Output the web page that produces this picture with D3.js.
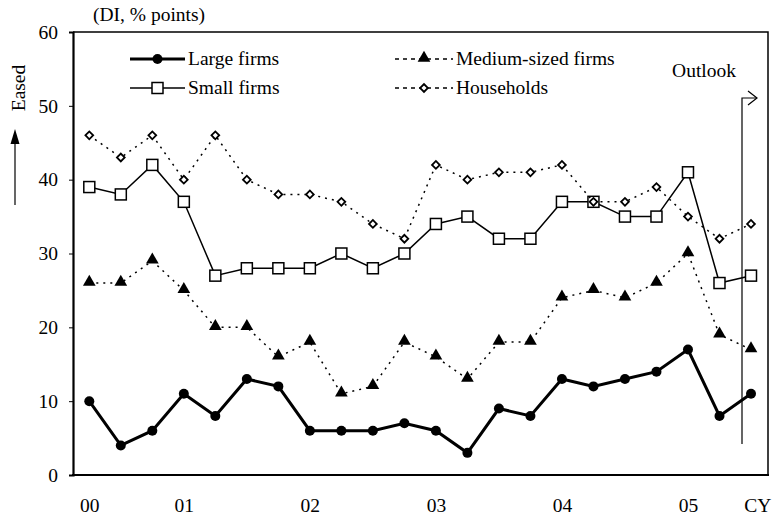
<!DOCTYPE html>
<html>
<head>
<meta charset="utf-8">
<script src="https://cdn.jsdelivr.net/npm/d3@7"></script>
<style>
  body { margin: 0; background: #fff; }
</style>
</head>
<body>
<div class="render"></div>
<script>
"use strict";

// quarterly DI, 2000 .. 2005, plus CY outlook
var largeFirms  = [10, 4, 6, 11, 8, 13, 12, 6, 6, 6, 7, 6, 3, 9, 8, 13, 12, 13, 14, 17, 8, 11];
var mediumFirms = [26, 26, 29, 25, 20, 20, 16, 18, 11, 12, 18, 16, 13, 18, 18, 24, 25, 24, 26, 30, 19, 17];
var smallFirms  = [39, 38, 42, 37, 27, 28, 28, 28, 30, 28, 30, 34, 35, 32, 32, 37, 37, 35, 35, 41, 26, 27];
var households  = [46, 43, 46, 40, 46, 40, 38, 38, 37, 34, 32, 42, 40, 41, 41, 42, 37, 37, 39, 35, 32, 34];
var tickLabels  = ["00", "01", "02", "03", "04", "05", "CY"];
var tickIndex   = [0, 3, 7, 11, 15, 19, 21.2];
var yTicks      = [0, 10, 20, 30, 40, 50, 60];

var FONT = "'Liberation Serif', 'Times New Roman', serif";
var FS = "19.5px";

var w = 772, h = 518;
var svg = d3.select(".render").append("svg").attr("width", w).attr("height", h)
  .style("font-family", FONT).style("font-size", FS);

var xScale = d3.scaleLinear().domain([0, 21]).range([89.3, 751]);
var yScale = d3.scaleLinear().domain([0, 60]).range([475, 32]);

function txt(sel) {
  return sel.style("font-family", FONT).style("font-size", FS).attr("fill", "#000");
}

// frame (top + right)
svg.append("path").attr("d", "M73,32H768V475").attr("fill", "none").attr("stroke", "#000").attr("stroke-width", 1.5);

// axes
var yAxis = d3.axisLeft(yScale).tickValues(yTicks).tickSize(4).tickPadding(11).tickFormat(d3.format("d"));
var gy = svg.append("g").attr("transform", "translate(73,0)").call(yAxis);
gy.attr("font-family", null).attr("font-size", null);
gy.select(".domain").attr("stroke-width", 2.2);
txt(gy.selectAll(".tick text"));

var xAxis = d3.axisBottom(xScale).tickValues(tickIndex).tickSize(0).tickPadding(23)
  .tickFormat(function (d, i) { return tickLabels[i]; });
var gx = svg.append("g").attr("transform", "translate(0,475)").call(xAxis);
gx.attr("font-family", null).attr("font-size", null);
gx.select(".domain").remove();
txt(gx.selectAll(".tick text"));
svg.append("line").attr("x1", 72).attr("x2", 769).attr("y1", 475).attr("y2", 475)
  .attr("stroke", "#000").attr("stroke-width", 2.2);

var line = d3.line().x(function (d, i) { return xScale(i); }).y(function (d) { return yScale(d); });

var diamond = d3.symbol().type(d3.symbolSquare).size(30);
var tri = d3.symbol().type(d3.symbolTriangle).size(70);

function drawMarker(g, kind, x, y) {
  if (kind === "circle") {
    g.append("circle").attr("cx", x).attr("cy", y).attr("r", 5).attr("fill", "#000");
  } else if (kind === "square") {
    g.append("rect").attr("x", x - 5.5).attr("y", y - 5.5).attr("width", 11).attr("height", 11)
      .attr("fill", "#fff").attr("stroke", "#000").attr("stroke-width", 1.5);
  } else if (kind === "triangle") {
    g.append("path").attr("d", tri()).attr("transform", "translate(" + x + "," + (y - 1) + ")").attr("fill", "#000");
  } else {
    g.append("path").attr("d", diamond()).attr("transform", "translate(" + x + "," + y + ") rotate(45)")
      .attr("fill", "#fff").attr("stroke", "#000").attr("stroke-width", 1.8);
  }
}

var series = [
  { name: "Small firms", data: smallFirms, kind: "square", width: 1.5, dash: null },
  { name: "Households", data: households, kind: "diamond", width: 1.5, dash: "2,5" },
  { name: "Medium-sized firms", data: mediumFirms, kind: "triangle", width: 1.5, dash: "2,5" },
  { name: "Large firms", data: largeFirms, kind: "circle", width: 3, dash: null }
];

series.forEach(function (s) {
  var g = svg.append("g");
  g.append("path").datum(s.data).attr("d", line).attr("fill", "none").attr("stroke", "#000")
    .attr("stroke-width", s.width).attr("stroke-dasharray", s.dash);
  s.data.forEach(function (d, i) { drawMarker(g, s.kind, xScale(i), yScale(d)); });
});

// legend
var legend = [
  { name: "Large firms", kind: "circle", width: 3, dash: null, x: 130, y: 59 },
  { name: "Small firms", kind: "square", width: 1.5, dash: null, x: 130, y: 88 },
  { name: "Medium-sized firms", kind: "triangle", width: 1.5, dash: "4,4", x: 395, y: 59 },
  { name: "Households", kind: "diamond", width: 1.5, dash: "4,4", x: 395, y: 88 }
];
legend.forEach(function (l) {
  var g = svg.append("g");
  var len = l.kind === "circle" || l.kind === "square" ? 55 : 58;
  g.append("line").attr("x1", l.x).attr("x2", l.x + len).attr("y1", l.y).attr("y2", l.y)
    .attr("stroke", "#000").attr("stroke-width", l.width).attr("stroke-dasharray", l.dash);
  drawMarker(g, l.kind, l.x + len / 2, l.y);
  txt(g.append("text").attr("x", l.x + len + 3).attr("y", l.y + 6).text(l.name));
});

// titles
txt(svg.append("text").attr("x", 93).attr("y", 21).text("(DI, % points)"));
txt(svg.append("text").attr("transform", "translate(25,88) rotate(-90)").attr("text-anchor", "middle").text("Eased"));
svg.append("line").attr("x1", 15).attr("x2", 15).attr("y1", 205).attr("y2", 140)
  .attr("stroke", "#000").attr("stroke-width", 1.2);
svg.append("path").attr("d", "M10.5,144 L15,129 L19.5,144 Z").attr("fill", "#000");

// outlook marker
txt(svg.append("text").attr("x", 736).attr("y", 77).attr("text-anchor", "end").text("Outlook"));
svg.append("path").attr("d", "M742,444V98H757").attr("fill", "none").attr("stroke", "#000").attr("stroke-width", 1.2);
svg.append("path").attr("d", "M748,91L757,98L748,105").attr("fill", "none").attr("stroke", "#000").attr("stroke-width", 1.2);
</script>
</body>
</html>
